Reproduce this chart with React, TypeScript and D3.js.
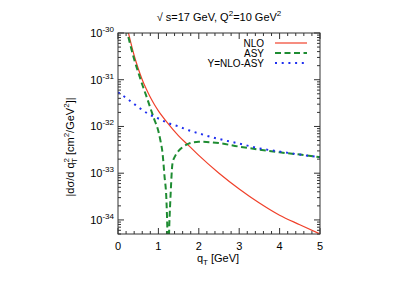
import React from 'react';
import * as d3 from 'd3';

// qT [GeV] and |dsigma/dqT^2| [cm^2/GeV^2]
const nloQ = [0.2, 0.3, 0.4, 0.5, 0.6, 0.7, 0.8, 0.9, 1.0, 1.2, 1.5, 1.75, 2.0, 2.5, 3.0, 3.5, 4.0, 4.5, 5.0];
const nloVal = [1.7e-30, 7.1e-31, 3.3e-31, 1.74e-31, 1.0e-31, 6.3e-32, 4.2e-32, 2.95e-32, 2.16e-32, 1.27e-32, 6.3e-33, 3.9e-33, 2.4e-33, 1.0e-33, 4.6e-34, 2.3e-34, 1.26e-34, 7.9e-35, 5.0e-35];

const asyQ = [0.2, 0.3, 0.4, 0.5, 0.6, 0.7, 0.8, 0.9, 1.0, 1.05, 1.1, 1.15, 1.2, 1.22, 1.24, 1.27, 1.3, 1.35, 1.4, 1.5, 1.6, 1.75, 2.0, 2.5, 3.0, 3.5, 4.0, 4.5, 5.0];
const asyVal = [1.3e-30, 5.8e-31, 2.75e-31, 1.45e-31, 7.9e-32, 4.5e-32, 2.5e-32, 1.4e-32, 7.9e-33, 5.0e-33, 2.8e-33, 8.9e-34, 2.5e-34, 7.1e-35, 1e-35, 7.9e-35, 3.2e-34, 1.66e-33, 2.2e-33, 3.0e-33, 3.6e-33, 4.3e-33, 4.7e-33, 4.4e-33, 3.7e-33, 3.2e-33, 2.8e-33, 2.5e-33, 2.2e-33];

const yQ = [0, 0.25, 0.5, 0.75, 1.0, 1.25, 1.5, 1.75, 2.0, 2.5, 3.0, 3.5, 4.0, 4.5, 5.0];
const yVal = [5.4e-32, 3.8e-32, 2.6e-32, 1.86e-32, 1.48e-32, 1.17e-32, 1.0e-32, 8.3e-33, 7.1e-33, 5.4e-33, 4.3e-33, 3.4e-33, 2.9e-33, 2.5e-33, 2.2e-33];

const xTicks = [0, 1, 2, 3, 4, 5];
const yExps = [-30, -31, -32, -33, -34];

const series = [
  { name: 'NLO', q: nloQ, v: nloVal, color: '#f0402a', width: 1.2, dash: '' },
  { name: 'ASY', q: asyQ, v: asyVal, color: '#1e8c32', width: 2, dash: '6,3.5' },
  { name: 'Y=NLO-ASY', q: yQ, v: yVal, color: '#1f2ff0', width: 2, dash: '2,4.7' },
];

const W = 403;
const H = 282;
const L = 118, R = 320, T = 33, B = 234;
const FONT = '"Liberation Sans", Arial, sans-serif';

export default function App() {
  const x = d3.scaleLinear().domain([0, 5]).range([L, R]);
  const y = d3.scaleLog().domain([5e-35, 1e-30]).range([B, T]);

  const line = d3.line<[number, number]>()
    .x(d => x(d[0]))
    .y(d => y(d[1]))
    .curve(d3.curveMonotoneX);

  const xMinor = d3.range(0, 5.001, 0.2).filter(v => Math.abs(v - Math.round(v)) > 1e-6);
  const yMinor: number[] = [];
  for (let e = -35; e < -30; e++) {
    for (let k = 2; k <= 9; k++) {
      const v = k * Math.pow(10, e);
      if (v >= 5e-35 && v <= 1e-30) yMinor.push(v);
    }
  }

  return (
    <svg width={W} height={H} style={{ position: 'absolute', left: 0, top: 0, background: '#fff' }} fontFamily={FONT}>
      <defs>
        <clipPath id="plot">
          <rect x={L} y={T} width={R - L} height={B - T} />
        </clipPath>
      </defs>

      {/* title */}
      <text x={219} y={21} textAnchor="middle" fontSize={11}>
        √ s=17 GeV, Q<tspan dy={-5} fontSize={8}>2</tspan><tspan dy={5}>=10 GeV</tspan><tspan dy={-5} fontSize={8}>2</tspan>
      </text>

      {/* ticks */}
      <g stroke="#333" strokeWidth={1}>
        {xTicks.map(t => (
          <g key={'xt' + t}>
            <line x1={x(t)} x2={x(t)} y1={B} y2={B - 6} />
            <line x1={x(t)} x2={x(t)} y1={T} y2={T + 6} />
          </g>
        ))}
        {xMinor.map(t => (
          <g key={'xm' + t}>
            <line x1={x(t)} x2={x(t)} y1={B} y2={B - 3} />
            <line x1={x(t)} x2={x(t)} y1={T} y2={T + 3} />
          </g>
        ))}
        {yExps.map(e => (
          <g key={'yt' + e}>
            <line x1={L} x2={L + 6} y1={y(Math.pow(10, e))} y2={y(Math.pow(10, e))} />
            <line x1={R} x2={R - 6} y1={y(Math.pow(10, e))} y2={y(Math.pow(10, e))} />
          </g>
        ))}
        {yMinor.map((v, i) => (
          <g key={'ym' + i}>
            <line x1={L} x2={L + 3} y1={y(v)} y2={y(v)} />
            <line x1={R} x2={R - 3} y1={y(v)} y2={y(v)} />
          </g>
        ))}
      </g>

      {/* tick labels */}
      {xTicks.map(t => (
        <text key={'xl' + t} x={x(t)} y={250} textAnchor="middle" fontSize={11}>{t}</text>
      ))}
      {yExps.map(e => (
        <text key={'yl' + e} x={114} y={y(Math.pow(10, e)) + 4} textAnchor="end" fontSize={11}>
          10<tspan dy={-5} fontSize={8}>{e}</tspan>
        </text>
      ))}

      {/* axis labels */}
      <text x={218} y={262} textAnchor="middle" fontSize={11}>
        q<tspan dy={3} fontSize={8}>T</tspan><tspan dy={-3}> [GeV]</tspan>
      </text>
      <text transform="translate(74,147) rotate(-90)" textAnchor="middle" fontSize={11}>
        |dσ/d q<tspan dy={-5} fontSize={8}>2</tspan><tspan dx={-5} dy={8} fontSize={8}>T</tspan><tspan dy={-3}> [cm</tspan><tspan dy={-5} fontSize={8}>2</tspan><tspan dy={5}>/GeV</tspan><tspan dy={-5} fontSize={8}>2</tspan><tspan dy={5}>]|</tspan>
      </text>

      {/* curves */}
      <g clipPath="url(#plot)" fill="none">
        {series.map(s => (
          <path
            key={s.name}
            d={line(s.q.map((q, i) => [q, s.v[i]] as [number, number])) || ''}
            stroke={s.color}
            strokeWidth={s.width}
            strokeDasharray={s.dash || undefined}
          />
        ))}
      </g>

      {/* legend */}
      {series.map((s, i) => (
        <g key={'lg' + s.name}>
          <text x={264} y={46.5 + i * 10} textAnchor="end" fontSize={10}>{s.name}</text>
          <line x1={275} x2={307} y1={43 + i * 10} y2={43 + i * 10} stroke={s.color} strokeWidth={s.width} strokeDasharray={s.dash || undefined} />
        </g>
      ))}

      {/* frame */}
      <rect x={L} y={T} width={R - L} height={B - T} fill="none" stroke="#333" strokeWidth={1} />
    </svg>
  );
}
